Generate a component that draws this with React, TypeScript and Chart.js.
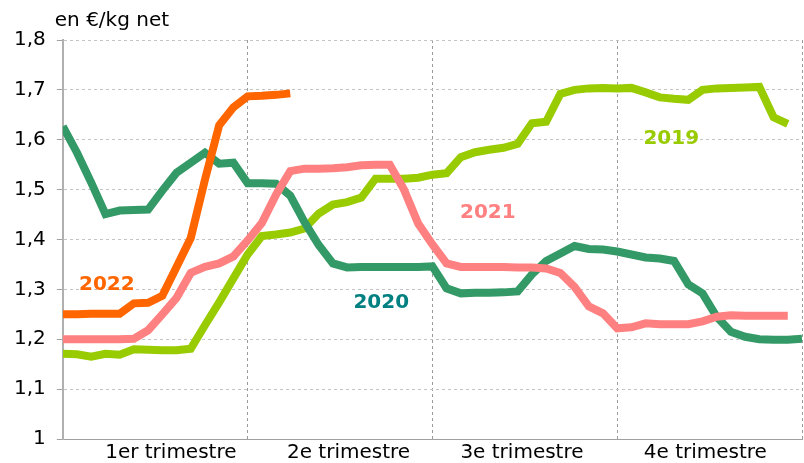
import React, { useEffect, useRef } from "react";
import { Chart, registerables } from "chart.js";

Chart.register(...registerables);

// Weekly prices (€/kg net), week index 0..52
const PRICES_2019 = [
  1.171, 1.170, 1.165, 1.171, 1.169, 1.180, 1.179, 1.178, 1.178, 1.181,
  1.228, 1.274, 1.322, 1.370, 1.407, 1.410, 1.414, 1.422, 1.452, 1.470,
  1.475, 1.484, 1.522, 1.522, 1.522, 1.524, 1.530, 1.533, 1.565, 1.575,
  1.580, 1.584, 1.592, 1.633, 1.636, 1.692, 1.700, 1.703, 1.704, 1.703,
  1.704, 1.695, 1.685, 1.682, 1.680, 1.700, 1.703, 1.704, 1.705, 1.706,
  1.645, 1.632,
];
const PRICES_2020 = [
  1.627, 1.574, 1.514, 1.451, 1.458, 1.459, 1.460, 1.498, 1.534, 1.554,
  1.574, 1.552, 1.554, 1.513, 1.513, 1.512, 1.488, 1.435, 1.389, 1.352,
  1.344, 1.345, 1.345, 1.345, 1.345, 1.345, 1.346, 1.302, 1.292, 1.293,
  1.293, 1.294, 1.296, 1.330, 1.357, 1.372, 1.387, 1.381, 1.380, 1.376,
  1.370, 1.364, 1.362, 1.357, 1.310, 1.292, 1.245, 1.215, 1.205, 1.200,
  1.199, 1.199, 1.201,
];
const PRICES_2021 = [
  1.200, 1.200, 1.200, 1.200, 1.200, 1.201, 1.218, 1.250, 1.283, 1.333,
  1.345, 1.352, 1.366, 1.398, 1.433, 1.490, 1.537, 1.542, 1.542, 1.543,
  1.545, 1.549, 1.550, 1.550, 1.500, 1.432, 1.390, 1.352, 1.345, 1.345,
  1.345, 1.345, 1.344, 1.344, 1.342, 1.333, 1.305, 1.266, 1.252, 1.222,
  1.224, 1.232, 1.230, 1.230, 1.230, 1.236, 1.245, 1.248, 1.247, 1.247,
  1.247, 1.247,
];
const PRICES_2022 = [
  1.250, 1.250, 1.251, 1.251, 1.251, 1.272, 1.273, 1.287, 1.345, 1.403,
  1.520, 1.629, 1.665, 1.687, 1.688, 1.690, 1.693,
];

const QUARTER_LABELS = ["1er trimestre", "2e trimestre", "3e trimestre", "4e trimestre"];
const QUARTER_LABEL_WEEKS = [7.6, 20.1, 32.3, 45.2];
const QUARTER_BOUNDS = [0, 13, 26, 39, 52];

const SERIES_NAMES = ["2022", "2021", "2020", "2019"];
const SERIES_COLORS = ["#FF6600", "#FF8080", "#339966", "#99CC00"];
const SERIES_DATA = [PRICES_2022, PRICES_2021, PRICES_2020, PRICES_2019];
const SERIES_TEXT_COLORS = ["#FF6600", "#FF8080", "#008080", "#99CC00"];
const SERIES_LABEL_WEEK = [3.1, 29.9, 22.4, 42.8];
const SERIES_LABEL_VALUE = [1.31, 1.453, 1.274, 1.602];

const Y_TITLE = "en €/kg net";
const FONT = "'DejaVu Sans', Verdana, sans-serif";

export default function App() {
  const ref = useRef<HTMLCanvasElement | null>(null);

  useEffect(() => {
    document.body.style.margin = "0";
    const canvas = ref.current;
    if (!canvas) return;

    const labelPlugin = {
      id: "seriesLabels",
      afterDatasetsDraw(chart: any) {
        const { ctx, scales } = chart;
        ctx.save();
        ctx.font = `bold 20px ${FONT}`;
        ctx.textAlign = "center";
        ctx.textBaseline = "middle";
        SERIES_NAMES.forEach((name, i) => {
          ctx.fillStyle = SERIES_TEXT_COLORS[i];
          ctx.fillText(
            name,
            scales.x.getPixelForValue(SERIES_LABEL_WEEK[i]),
            scales.y.getPixelForValue(SERIES_LABEL_VALUE[i])
          );
        });
        ctx.font = `20px ${FONT}`;
        ctx.fillStyle = "#000";
        ctx.textAlign = "left";
        ctx.textBaseline = "alphabetic";
        ctx.fillText(Y_TITLE, chart.chartArea.left - 8, chart.chartArea.top - 14);
        ctx.restore();
      },
    };

    const chart = new Chart(canvas, {
      type: "line",
      data: {
        datasets: SERIES_NAMES.map((name, i) => ({
          label: name,
          data: SERIES_DATA[i].map((v, w) => ({ x: w, y: v })),
          borderColor: SERIES_COLORS[i],
          backgroundColor: SERIES_COLORS[i],
          borderWidth: 8,
          pointRadius: 0,
          tension: 0,
          fill: false,
        })),
      },
      options: {
        animation: false,
        responsive: true,
        maintainAspectRatio: false,
        layout: { padding: { left: 3, top: 40, right: 2, bottom: -4 } },
        plugins: {
          legend: { display: false },
          tooltip: { enabled: false },
        },
        scales: {
          x: {
            type: "linear",
            min: 0,
            max: 52,
            afterBuildTicks: (axis: any) => {
              const vals = [...QUARTER_BOUNDS, ...QUARTER_LABEL_WEEKS].sort((a, b) => a - b);
              axis.ticks = vals.map((v) => ({ value: v }));
            },
            ticks: {
              autoSkip: false,
              maxRotation: 0,
              padding: 2,
              color: "#000",
              font: { family: FONT, size: 20 },
              callback: (value: any) => {
                const idx = QUARTER_LABEL_WEEKS.indexOf(Number(value));
                return idx >= 0 ? QUARTER_LABELS[idx] : "";
              },
            },
            grid: {
              drawTicks: false,
              lineWidth: 1,
              color: (ctx: any) => {
                const v = ctx.tick ? ctx.tick.value : -1;
                return v > 0 && QUARTER_BOUNDS.includes(v) ? "#9a9a9a" : "rgba(0,0,0,0)";
              },
            },
            border: { display: true, color: "#a0a0a0", width: 1, dash: [3, 3] },
          },
          y: {
            min: 1,
            max: 1.8,
            ticks: {
              stepSize: 0.1,
              padding: 11,
              color: "#000",
              font: { family: FONT, size: 20 },
              callback: (value: any) => {
                const v = Math.round(Number(value) * 10) / 10;
                return v === 1 ? "1" : v.toFixed(1).replace(".", ",");
              },
            },
            grid: {
              color: "#c4c4c4",
              lineWidth: 1,
              tickLength: 6,
              tickColor: "#a0a0a0",
              tickWidth: 1,
              tickBorderDash: [],
            },
            border: { display: true, color: "#b0b0b0", width: 2, dash: [3, 3] },
          },
        },
      },
      plugins: [labelPlugin],
    });

    return () => chart.destroy();
  }, []);

  return (
    <div style={{ width: 804, height: 463, position: "relative" }}>
      <canvas ref={ref} />
    </div>
  );
}
